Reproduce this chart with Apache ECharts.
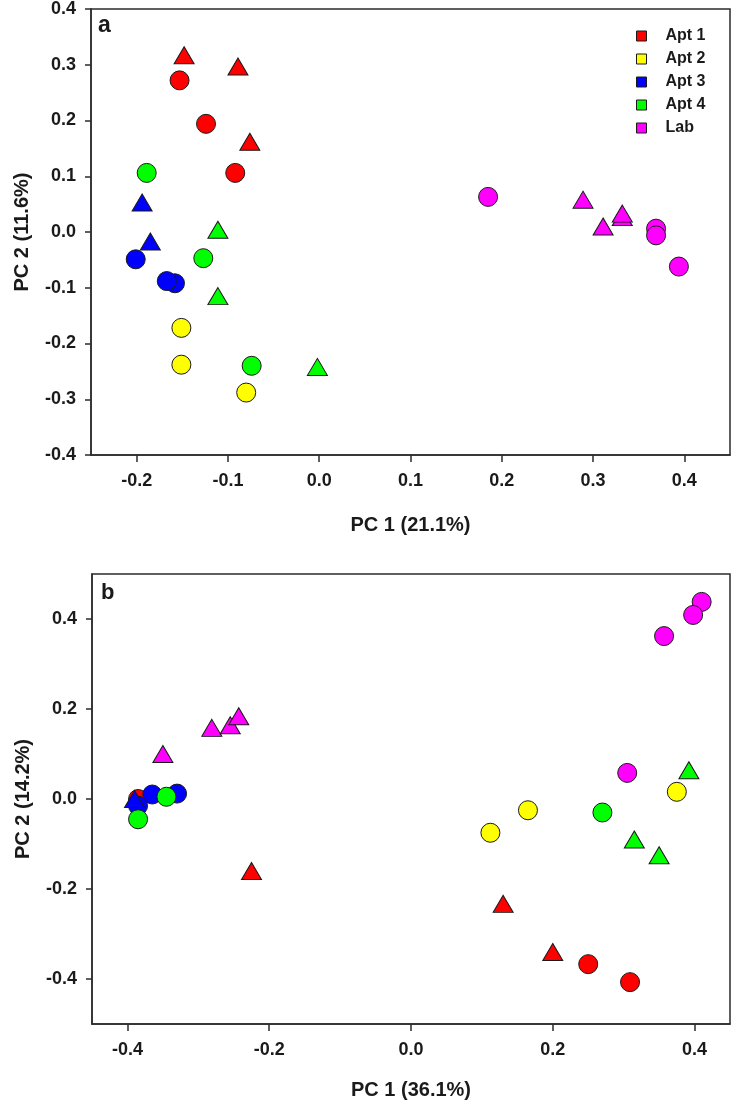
<!DOCTYPE html>
<html>
<head>
<meta charset="utf-8">
<script src="https://cdn.jsdelivr.net/npm/echarts@6/dist/echarts.min.js"></script>
<style>
html,body{margin:0;padding:0;background:#fff;}
#chart{width:733px;height:1107px;}
</style>
</head>
<body>
<div id="chart"></div>
<script>
// ---------- data ----------
const groups = ['Apt 1', 'Apt 2', 'Apt 3', 'Apt 4', 'Lab'];

// Panel a  [PC1, PC2]
const aApt1Circle   = [[-0.153, 0.272], [-0.124, 0.194], [-0.092, 0.106]];
const aApt1Triangle = [[-0.148, 0.317], [-0.089, 0.297], [-0.076, 0.162]];
const aApt2Circle   = [[-0.151, -0.172], [-0.151, -0.238], [-0.080, -0.288]];
const aApt2Triangle = [];
const aApt3Circle   = [[-0.201, -0.049], [-0.158, -0.092], [-0.167, -0.088]];
const aApt3Triangle = [[-0.194, 0.053], [-0.185, -0.017]];
const aApt4Circle   = [[-0.189, 0.106], [-0.127, -0.047], [-0.074, -0.240]];
const aApt4Triangle = [[-0.111, 0.004], [-0.111, -0.115], [-0.002, -0.242]];
const aLabCircle    = [[0.185, 0.063], [0.369, 0.006], [0.369, -0.006], [0.394, -0.062]];
const aLabTriangle  = [[0.289, 0.058], [0.311, 0.010], [0.332, 0.027], [0.332, 0.033]];

// Panel b  [PC1, PC2]
const bApt1Circle   = [[-0.385, 0.000], [0.250, -0.367], [0.309, -0.407]];
const bApt1Triangle = [[-0.225, -0.160], [0.130, -0.233], [0.200, -0.340]];
const bApt2Circle   = [[0.112, -0.075], [0.165, -0.025], [0.375, 0.016]];
const bApt2Triangle = [];
const bApt3Circle   = [[-0.365, 0.010], [-0.330, 0.012], [-0.385, -0.015]];
const bApt3Triangle = [[-0.390, 0.000]];
const bApt4Circle   = [[-0.345, 0.005], [-0.385, -0.045], [0.270, -0.030]];
const bApt4Triangle = [[0.315, -0.090], [0.350, -0.125], [0.392, 0.064]];
const bLabCircle    = [[0.410, 0.438], [0.398, 0.409], [0.357, 0.362], [0.305, 0.058]];
const bLabTriangle  = [[-0.350, 0.100], [-0.281, 0.158], [-0.255, 0.164], [-0.243, 0.184]];

// tick labels
const aXTicks = [-0.2, -0.1, 0.0, 0.1, 0.2, 0.3, 0.4];
const aYTicks = [-0.4, -0.3, -0.2, -0.1, 0.0, 0.1, 0.2, 0.3, 0.4];
const bXTicks = [-0.4, -0.2, 0.0, 0.2, 0.4];
const bYTicks = [-0.4, -0.2, 0.0, 0.2, 0.4];

const aXTitle = 'PC 1 (21.1%)', aYTitle = 'PC 2 (11.6%)';
const bXTitle = 'PC 1 (36.1%)', bYTitle = 'PC 2 (14.2%)';

// ---------- styling ----------
const colors = ['#ff0000', '#ffff00', '#0000ff', '#00ff00', '#ff00ff'];
const FONT = '"Liberation Sans", Arial, sans-serif';
const AX = '#2b2b2b';

const panelA = [
  [aApt1Circle, aApt1Triangle], [aApt2Circle, aApt2Triangle], [aApt3Circle, aApt3Triangle],
  [aApt4Circle, aApt4Triangle], [aLabCircle, aLabTriangle]
];
const panelB = [
  [bApt1Circle, bApt1Triangle], [bApt2Circle, bApt2Triangle], [bApt3Circle, bApt3Triangle],
  [bApt4Circle, bApt4Triangle], [bLabCircle, bLabTriangle]
];

function makeSeries(panel, idx) {
  const out = [];
  panel.forEach((pair, g) => {
    ['circle', 'triangle'].forEach((shape, s) => {
      out.push({
        type: 'scatter',
        name: groups[g],
        xAxisIndex: idx, yAxisIndex: idx,
        symbol: shape,
        symbolSize: shape === 'circle' ? 19 : [20, 17],
        itemStyle: { color: colors[g], borderColor: '#1a1a1a', borderWidth: 1, opacity: 1 },
        emphasis: { disabled: true },
        data: pair[s]
      });
    });
  });
  return out;
}

function fmt(v) { return (Math.abs(v) < 1e-9 ? 0 : v).toFixed(1); }

function xAxis(idx, min, max, ticks, title, gap) {
  return {
    type: 'value', gridIndex: idx, min: min, max: max,
    splitLine: { show: false },
    axisLine: { show: true, onZero: false, lineStyle: { color: AX, width: 1.5 } },
    axisTick: { show: true, inside: false, length: 7, customValues: ticks, lineStyle: { color: AX, width: 1.5 } },
    axisLabel: { customValues: ticks, formatter: fmt, margin: 17, color: '#1a1a1a',
      fontFamily: FONT, fontWeight: 'bold', fontSize: 18 },
    name: title, nameLocation: 'middle', nameGap: gap,
    nameTextStyle: { fontFamily: FONT, fontWeight: 'bold', fontSize: 20, color: '#1a1a1a' }
  };
}
function yAxis(idx, min, max, ticks, title) {
  return {
    type: 'value', gridIndex: idx, min: min, max: max,
    splitLine: { show: false },
    axisLine: { show: true, onZero: false, lineStyle: { color: AX, width: 1.5 } },
    axisTick: { show: true, inside: false, length: 6, customValues: ticks, lineStyle: { color: AX, width: 1.5 } },
    axisLabel: { customValues: ticks, formatter: fmt, margin: 15, color: '#1a1a1a',
      fontFamily: FONT, fontWeight: 'bold', fontSize: 18 },
    name: title, nameLocation: 'middle', nameGap: 59, nameRotate: 90,
    nameTextStyle: { fontFamily: FONT, fontWeight: 'bold', fontSize: 20, color: '#1a1a1a' }
  };
}

const chart = echarts.init(document.getElementById('chart'), null, { renderer: 'canvas' });
chart.setOption({
  animation: false,
  backgroundColor: '#ffffff',
  grid: [
    { left: 91, right: 3, top: 9, height: 446, show: true, borderColor: AX, borderWidth: 1.5, backgroundColor: 'transparent' },
    { left: 92, right: 3, top: 574, height: 450, show: true, borderColor: AX, borderWidth: 1.5, backgroundColor: 'transparent' }
  ],
  xAxis: [
    xAxis(0, -0.25, 0.45, aXTicks, aXTitle, 60),
    xAxis(1, -0.45, 0.45, bXTicks, bXTitle, 56)
  ],
  yAxis: [
    yAxis(0, -0.4, 0.4, aYTicks, aYTitle),
    yAxis(1, -0.5, 0.5, bYTicks, bYTitle)
  ],
  legend: {
    show: true,
    data: groups.map((g, i) => ({ name: g, icon: 'rect',
      itemStyle: { color: colors[i], borderColor: '#1a1a1a', borderWidth: 1 } })),
    orient: 'vertical', left: 636, top: 28, padding: 0,
    itemWidth: 10, itemHeight: 10, itemGap: 7,
    selectedMode: false,
    textStyle: { fontFamily: FONT, fontWeight: 'bold', fontSize: 16, color: '#1a1a1a',
      lineHeight: 16, padding: [0, 0, 0, 14] }
  },
  graphic: [
    { type: 'text', left: 98, top: 14, style: { text: 'a', font: 'bold 23px ' + FONT, fill: '#1a1a1a' } },
    { type: 'text', left: 101, top: 582, style: { text: 'b', font: 'bold 22px ' + FONT, fill: '#1a1a1a' } }
  ],
  series: makeSeries(panelA, 0).concat(makeSeries(panelB, 1))
});
</script>
</body>
</html>
